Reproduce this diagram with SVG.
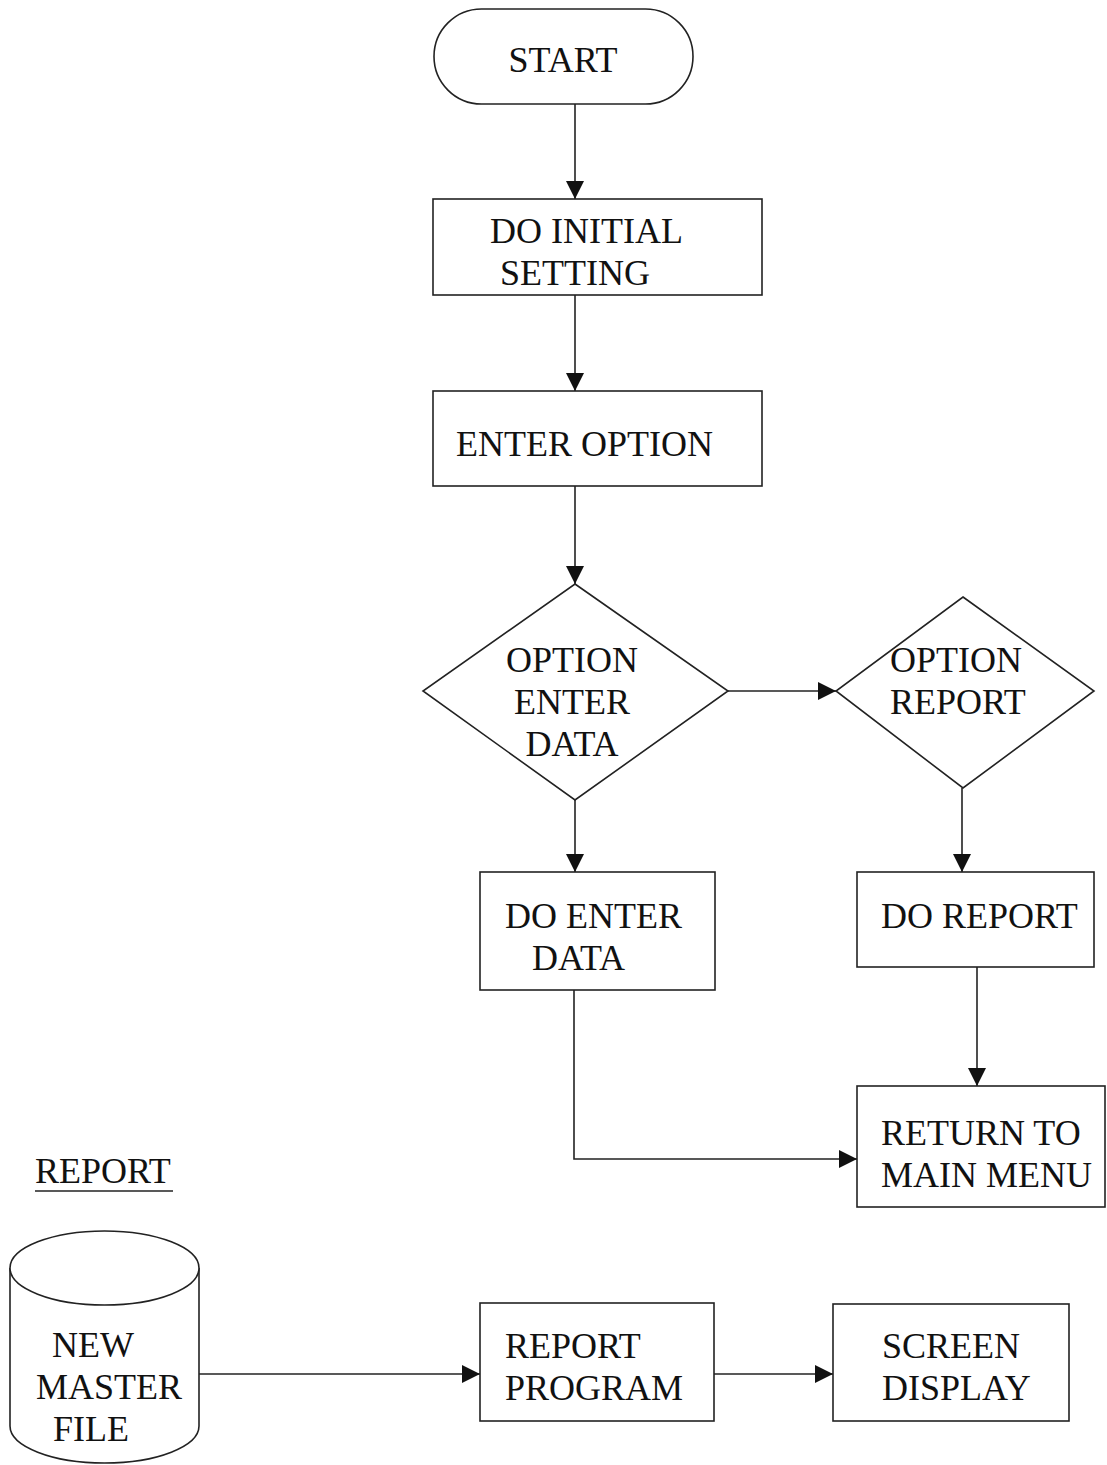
<svg xmlns="http://www.w3.org/2000/svg" width="1107" height="1465" viewBox="0 0 1107 1465">
<defs>
<marker id="arr" markerUnits="userSpaceOnUse" markerWidth="20" markerHeight="18" refX="18" refY="9" orient="auto">
<path d="M0,0 L18,9 L0,18 Z" fill="#111"/>
</marker>
<style>
.s{fill:#fff;stroke:#222;stroke-width:1.6}
.c{fill:none;stroke:#222;stroke-width:1.6;marker-end:url(#arr)}
.t{font-family:"Liberation Serif","Times New Roman",serif;font-size:36px;fill:#111}
</style>
</defs>
<rect width="1107" height="1465" fill="#fff"/>
<g id="connectors">
<line class="c" x1="575" y1="104" x2="575" y2="199"/>
<line class="c" x1="575" y1="295" x2="575" y2="391"/>
<line class="c" x1="575" y1="486" x2="575" y2="584"/>
<line class="c" x1="728" y1="691" x2="836" y2="691"/>
<line class="c" x1="575" y1="800" x2="575" y2="872"/>
<line class="c" x1="962" y1="788" x2="962" y2="872"/>
<line class="c" x1="977" y1="967" x2="977" y2="1086"/>
<polyline class="c" points="574,990 574,1159 857,1159"/>
<line class="c" x1="199" y1="1374" x2="480" y2="1374"/>
<line class="c" x1="714" y1="1374" x2="833" y2="1374"/>
</g>
<g id="start">
<rect class="s" x="434" y="9" width="259" height="95" rx="47.5" ry="47.5"/>
<text class="t" x="563" y="72" text-anchor="middle">START</text>
</g>
<g id="initial">
<rect class="s" x="433" y="199" width="329" height="96"/>
<text class="t" x="490" y="243">DO INITIAL</text>
<text class="t" x="500" y="285">SETTING</text>
</g>
<g id="enter-option">
<rect class="s" x="433" y="391" width="329" height="95"/>
<text class="t" x="456" y="456">ENTER OPTION</text>
</g>
<g id="option-enter-data">
<polygon class="s" points="575,584 728,691 575,800 423,691"/>
<text class="t" x="572" y="672" text-anchor="middle">OPTION</text>
<text class="t" x="572" y="714" text-anchor="middle">ENTER</text>
<text class="t" x="572" y="756" text-anchor="middle">DATA</text>
</g>
<g id="option-report">
<polygon class="s" points="963,597 1094,691 963,788 836,691"/>
<text class="t" x="890" y="672">OPTION</text>
<text class="t" x="890" y="714">REPORT</text>
</g>
<g id="do-enter-data">
<rect class="s" x="480" y="872" width="235" height="118"/>
<text class="t" x="505" y="928">DO ENTER</text>
<text class="t" x="532" y="970">DATA</text>
</g>
<g id="do-report">
<rect class="s" x="857" y="872" width="237" height="95"/>
<text class="t" x="881" y="928">DO REPORT</text>
</g>
<g id="return-main-menu">
<rect class="s" x="857" y="1086" width="248" height="121"/>
<text class="t" x="881" y="1145">RETURN TO</text>
<text class="t" x="881" y="1187">MAIN MENU</text>
</g>
<g id="report-heading">
<text class="t" x="35" y="1183">REPORT</text>
<line x1="35" y1="1191" x2="173" y2="1191" stroke="#222" stroke-width="1.6"/>
</g>
<g id="new-master-file">
<path class="s" d="M10,1268 L10,1426 A94.5,37 0 0 0 199,1426 L199,1268"/>
<ellipse class="s" cx="104.5" cy="1268" rx="94.5" ry="37"/>
<text class="t" x="52" y="1357">NEW</text>
<text class="t" x="36" y="1399">MASTER</text>
<text class="t" x="53" y="1441">FILE</text>
</g>
<g id="report-program">
<rect class="s" x="480" y="1303" width="234" height="118"/>
<text class="t" x="505" y="1358">REPORT</text>
<text class="t" x="505" y="1400">PROGRAM</text>
</g>
<g id="screen-display">
<rect class="s" x="833" y="1304" width="236" height="117"/>
<text class="t" x="882" y="1358">SCREEN</text>
<text class="t" x="882" y="1400">DISPLAY</text>
</g>
</svg>
